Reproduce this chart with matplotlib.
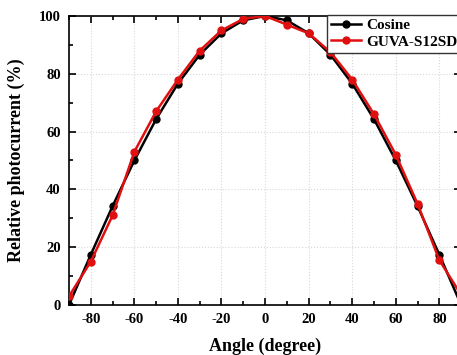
import matplotlib
matplotlib.use("Agg")
import matplotlib.pyplot as plt
from matplotlib.ticker import MultipleLocator

angle = [-90, -80, -70, -60, -50, -40, -30, -20, -10, 0, 10, 20, 30, 40, 50, 60, 70, 80, 90]
cosine = [0, 17.4, 34.2, 50.0, 64.3, 76.6, 86.6, 94.0, 98.5, 100, 98.5, 94.0, 86.6, 76.6, 64.3, 50.0, 34.2, 17.4, 0]
guva = [3, 15, 31, 53, 67, 78, 88, 95, 99, 100, 97, 94, 87.5, 78, 66, 52, 35, 15.5, 3.5]

plt.rcParams['font.family'] = ['Liberation Serif', 'DejaVu Serif']
plt.rcParams['font.weight'] = 'bold'
plt.rcParams['axes.unicode_minus'] = False

fig = plt.figure(figsize=(4.57, 3.55), dpi=100)
ax = fig.add_axes([0.151, 0.141, 0.858, 0.814])

ax.plot(angle, cosine, color='black', lw=1.8, marker='o', ms=5, label='Cosine', zorder=3)
ax.plot(angle, guva, color='#e01010', lw=1.8, marker='o', ms=5, label='GUVA-S12SD', zorder=4)

ax.set_xlim(-90, 90)
ax.set_ylim(0, 100)
ax.xaxis.set_major_locator(MultipleLocator(20))
ax.xaxis.set_minor_locator(MultipleLocator(10))
ax.yaxis.set_major_locator(MultipleLocator(20))
ax.yaxis.set_minor_locator(MultipleLocator(10))
ax.tick_params(which='both', direction='in', top=True, right=True, width=1.2)
ax.tick_params(which='major', length=5, labelsize=10.5, pad=6)
ax.tick_params(which='minor', length=3)
for s in ax.spines.values():
    s.set_linewidth(1.2)
ax.grid(True, which='major', color='#d8d8d8', ls=':', lw=0.8)

for lab in ax.get_xticklabels() + ax.get_yticklabels():
    lab.set_fontweight('bold')

ax.set_xlabel('Angle (degree)', fontsize=13, fontweight='bold', labelpad=8)
ax.set_ylabel('Relative photocurrent (%)', fontsize=13, fontweight='bold', labelpad=10)

leg = ax.legend(loc='upper right', bbox_to_anchor=(1.0, 1.005), fontsize=11,
                frameon=True, fancybox=False, edgecolor='#333333', framealpha=1,
                borderpad=0.25, handlelength=2.0, handletextpad=0.3,
                labelspacing=0.2, borderaxespad=0.0)
leg.get_frame().set_linewidth(1.0)
for t in leg.get_texts():
    t.set_fontweight('bold')

fig.savefig('out.png', dpi=100)
